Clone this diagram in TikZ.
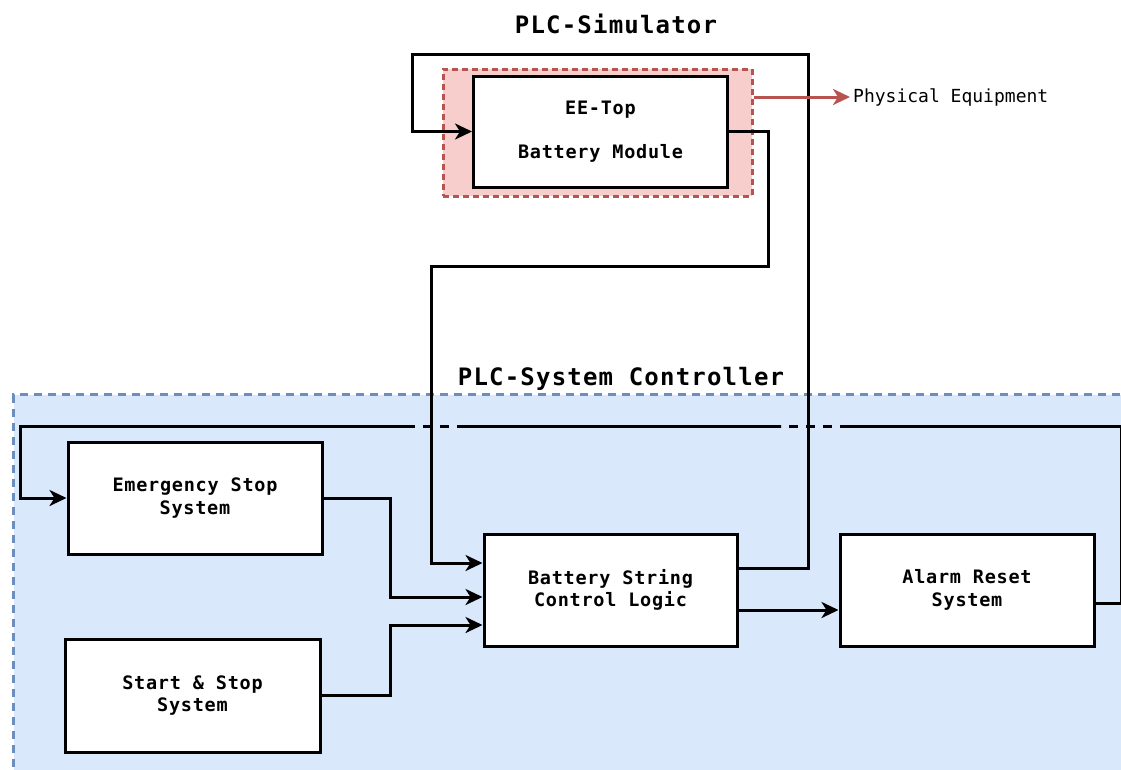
\documentclass[tikz,border=0pt]{standalone}
\usepackage{fontspec}
\usetikzlibrary{arrows.meta}
\newfontfamily\boxfont{DejaVu Sans Mono}[LetterSpace=4]
\newfontfamily\titlefont{DejaVu Sans Mono}[LetterSpace=5]
\newfontfamily\lblfont{DejaVu Sans Mono}
\definecolor{pinkfill}{HTML}{F8CECC}
\definecolor{pinkline}{HTML}{B85450}
\definecolor{bluefill}{HTML}{DAE8FC}
\definecolor{blueline}{HTML}{6C8EBF}
\tikzset{
  blockbox/.style={draw=black, line width=3pt, fill=white, align=center, inner sep=0pt,
    font=\boxfont\bfseries\fontsize{18.5}{22.5}\selectfont},
  titletext/.style={font=\titlefont\bfseries\fontsize{24}{26}\selectfont, inner sep=0pt},
  conn/.style={draw=black, line width=3pt, -{Stealth[length=17pt,width=16pt,inset=5pt]}},
  wire/.style={draw=black, line width=3pt},
  jump/.style={draw=black, line width=3pt, dash pattern=on 9pt off 8pt},
}
\begin{document}
\begin{tikzpicture}[x=1pt,y=-1pt]
\useasboundingbox (0,0) rectangle (1121,769);
\begin{scope}
\clip (0,0) rectangle (1121,769);
% controller background
\node[draw=blueline, fill=bluefill, line width=3pt, dash pattern=on 8pt off 6pt,
      minimum width=1130pt, minimum height=400pt, anchor=north west, inner sep=0pt] (ctrl) at (12,393) {};
\end{scope}
% simulator background
\node[draw=pinkline, fill=pinkfill, line width=3pt, dash pattern=on 6pt off 4pt,
      minimum width=309pt, minimum height=127pt, inner sep=0pt] (simbg) at (597.5,132.5) {};
% titles
\node[titletext] (simtitle) at (616,24) {PLC-Simulator};
\node[titletext] (ctrltitle) at (621,379) {PLC-System Controller};
% blocks
\node[blockbox, minimum width=254pt, minimum height=111pt] (ee) at (600.5,131.5)
  {EE-Top\\[22pt]Battery Module};
\node[blockbox, minimum width=254pt, minimum height=112pt] (es) at (195,498)
  {Emergency Stop\\System};
\node[blockbox, minimum width=255pt, minimum height=113pt] (ss) at (192.5,695.5)
  {Start \& Stop\\System};
\node[blockbox, minimum width=253pt, minimum height=112pt] (bscl) at (610.5,590)
  {Battery String\\Control Logic};
\node[blockbox, minimum width=254pt, minimum height=112pt] (ar) at (967,590)
  {Alarm Reset\\System};
\node[font=\lblfont\fontsize{18}{20}\selectfont, anchor=west, inner sep=3pt] (phys) at (850,97)
  {Physical Equipment};
% connectors
\draw[conn] ([yshift=22pt]bscl.east) -| (808,54) -| ([xshift=-59.5pt]ee.west) -- (ee.west);
\draw[conn] (ee.east) -- ++(39,0) |- (431,266) |- ([yshift=27pt]bscl.west);
\draw[draw=pinkline, line width=3pt, -{Stealth[length=17pt,width=16pt,inset=5pt]}]
  ([yshift=35.5pt]simbg.east) -- (phys.west);
\draw[conn] (es.east) -- ++(67,0) |- ([yshift=-7pt]bscl.west);
\draw[conn] (ss.east) -- ++(69,0) |- ([yshift=-35pt]bscl.west);
\draw[conn] ([yshift=-20pt]bscl.east) -- ([yshift=-20pt]ar.west);
% feedback loop with line jumps
\coordinate (j1a) at (849,426);
\coordinate (j1b) at (781,426);
\coordinate (j2a) at (466,426);
\coordinate (j2b) at (411,426);
\draw[wire] ([yshift=-13pt]ar.east) -- ++(26,0) |- (j1a);
\draw[jump] (j1a) -- (j1b);
\draw[wire] (j1b) -- (j2a);
\draw[jump] (j2a) -- (j2b);
\draw[conn] (j2b) -| ([xshift=-46pt]es.west) -- (es.west);
\end{tikzpicture}
\end{document}
